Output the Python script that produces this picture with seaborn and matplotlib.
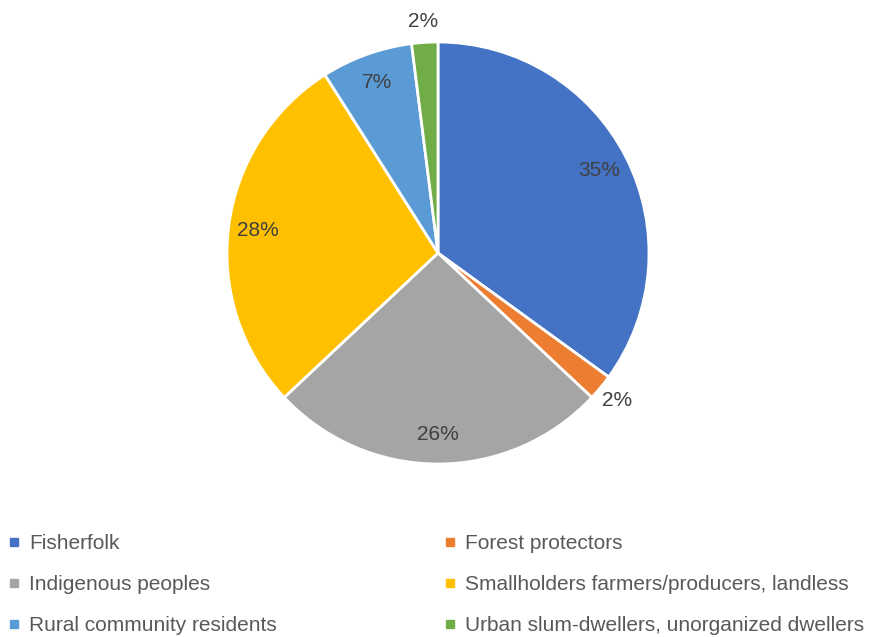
import matplotlib
matplotlib.use("Agg")
import matplotlib.pyplot as plt
from matplotlib.lines import Line2D
import numpy as np
import seaborn as sns

categories = [
    "Fisherfolk",
    "Forest protectors",
    "Indigenous peoples",
    "Smallholders farmers/producers, landless",
    "Rural community residents",
    "Urban slum-dwellers, unorganized dwellers",
]
shares = [35, 2, 26, 28, 7, 2]
colors = ["#4472C4", "#ED7D31", "#A5A5A5", "#FFC000", "#5B9BD5", "#70AD47"]
outside = [False, True, False, False, False, True]

sns.set_theme(style="white")
plt.rcParams["font.family"] = ["Liberation Sans", "DejaVu Sans"]

W, H = 877, 637
fig = plt.figure(figsize=(W / 100, H / 100), dpi=100)
cx, cy, r = 438, 253, 211
ax = fig.add_axes([(cx - r) / W, (H - cy - r) / H, 2 * r / W, 2 * r / H])

palette = sns.color_palette(colors)
wedges, _ = ax.pie(
    shares,
    colors=palette,
    startangle=90,
    counterclock=False,
    radius=1,
    wedgeprops=dict(edgecolor="white", linewidth=2),
)

total = sum(shares)
start = 90.0
for w, v, out in zip(wedges, shares, outside):
    mid = start - 360.0 * v / total / 2
    start -= 360.0 * v / total
    d = 1.10 if out else 0.86
    x, y = d * np.cos(np.radians(mid)), d * np.sin(np.radians(mid))
    ax.text(x, y, f"{v}%", ha="center", va="center", fontsize=15, color="#404040")

ax.set_xlim(-1, 1)
ax.set_ylim(-1, 1)
ax.set_aspect("equal")
ax.axis("off")

handles = [
    Line2D([0], [0], marker="s", linestyle="none", markersize=6,
           markerfacecolor=c, markeredgecolor=c)
    for c in colors
]
# legend entries fill row by row: two columns, three rows
order = [0, 2, 4, 1, 3, 5]
leg = fig.legend(
    [handles[i] for i in order],
    [categories[i] for i in order],
    ncol=2,
    loc="upper left",
    bbox_to_anchor=(0.0, 1 - 526 / H),
    frameon=False,
    fontsize=15,
    handlelength=0.55,
    handletextpad=0.45,
    columnspacing=8.05,
    labelspacing=1.05,
    borderaxespad=0,
)
for t in leg.get_texts():
    t.set_color("#595959")

fig.savefig("out.png", dpi=100)
